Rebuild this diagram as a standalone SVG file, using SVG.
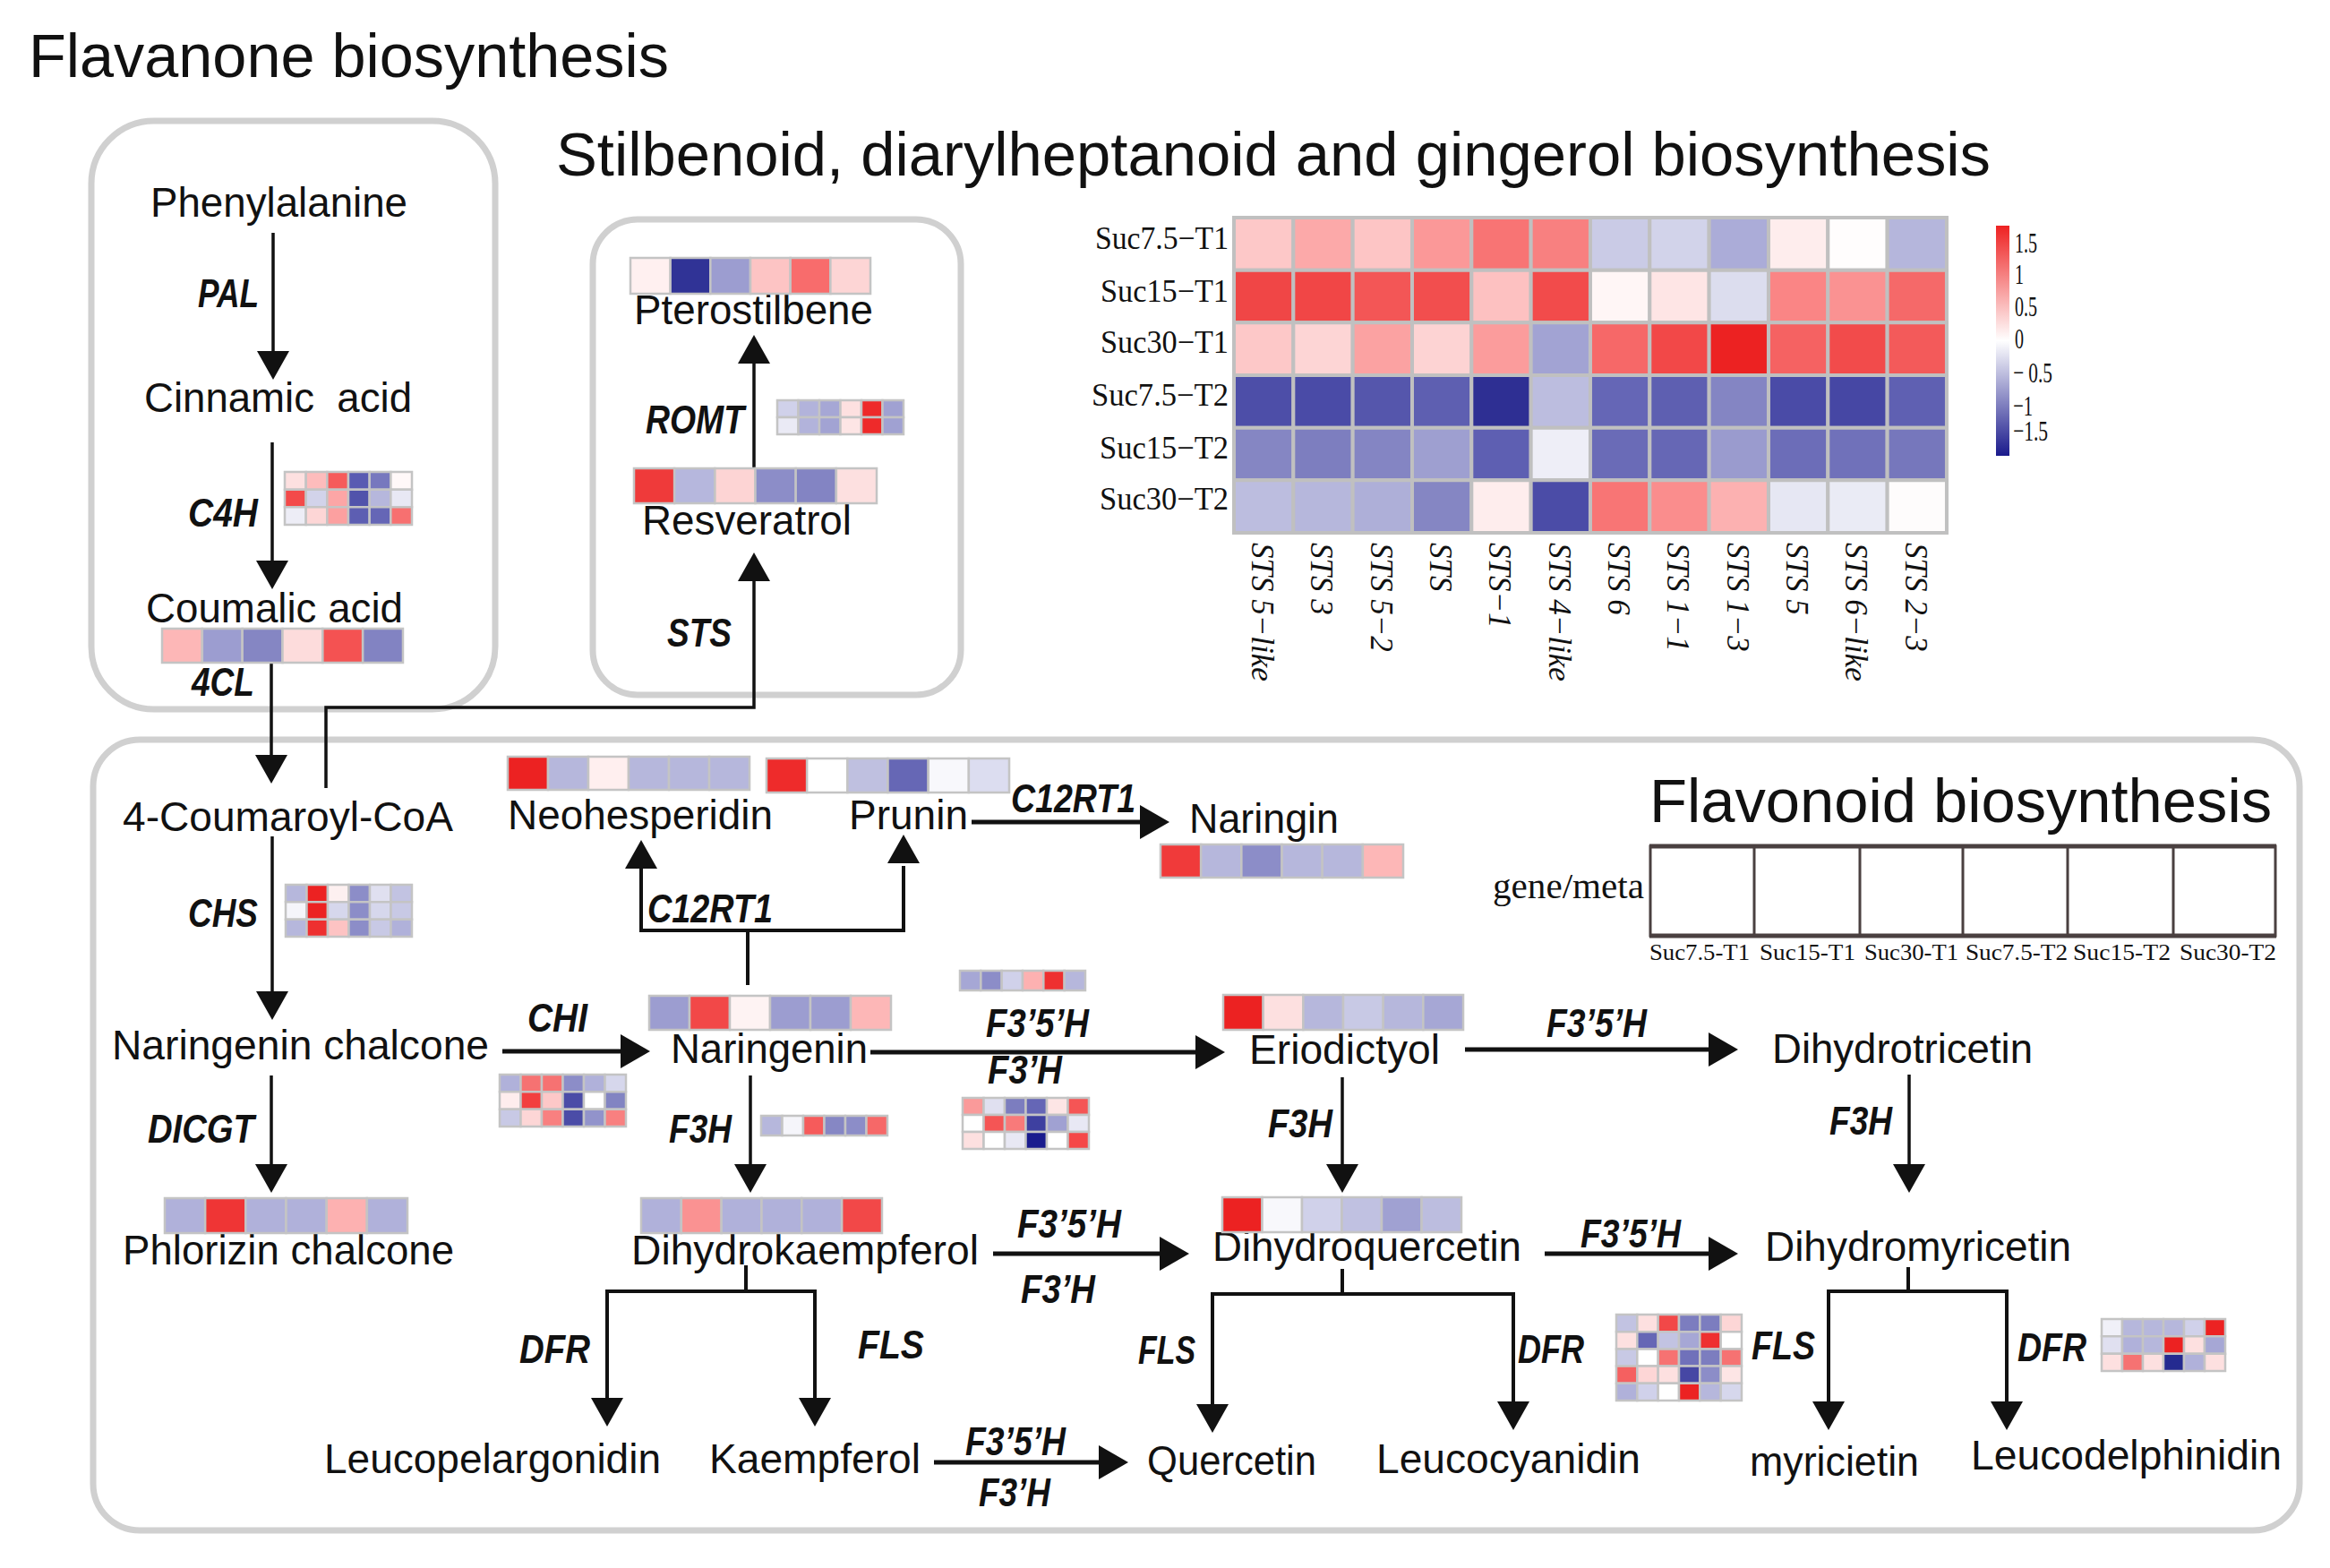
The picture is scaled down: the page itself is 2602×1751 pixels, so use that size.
<svg xmlns="http://www.w3.org/2000/svg" width="2602" height="1751" viewBox="0 0 2602 1751">
<style>
.cmp{font-family:"Liberation Sans",Arial,sans-serif;font-size:46px;fill:#111}
.enz{font-family:"Liberation Sans",Arial,sans-serif;font-size:44px;font-weight:bold;font-style:italic;fill:#111}
.ttl{font-family:"Liberation Sans",Arial,sans-serif;font-size:68px;fill:#111}
.tms{font-family:"Liberation Serif","Times New Roman",serif;fill:#111}
.box{fill:none;stroke:#d0d0d0;stroke-width:7}
.hm rect{stroke:#c4c4c4;stroke-width:2.5;vector-effect:non-scaling-stroke}
.big rect{stroke:#c0c0c0;stroke-width:4;vector-effect:non-scaling-stroke}
.v{stroke-width:3.5}
.h{stroke-width:5}
</style>
<defs>
<linearGradient id="leg" x1="0" y1="0" x2="0" y2="1">
<stop offset="0" stop-color="#EE2222"/>
<stop offset="0.5" stop-color="#FFFFFF"/>
<stop offset="1" stop-color="#1A1A8C"/>
</linearGradient>
</defs>
<rect width="2602" height="1751" fill="#fff"/>

<g id="titles">
<text class="ttl" x="32" y="86" textLength="715" lengthAdjust="spacingAndGlyphs">Flavanone biosynthesis</text>
<text class="ttl" x="621" y="196" textLength="1602" lengthAdjust="spacingAndGlyphs">Stilbenoid, diarylheptanoid and gingerol biosynthesis</text>
<text class="ttl" x="1842" y="918" textLength="695" lengthAdjust="spacingAndGlyphs">Flavonoid biosynthesis</text>
</g>

<g id="boxes">
<rect class="box" x="102" y="135" width="451" height="657" rx="70"/>
<rect class="box" x="662" y="245" width="411" height="531" rx="50"/>
<rect class="box" x="104" y="826" width="2464" height="883" rx="52"/>
</g>

<g id="connectors" fill="none" stroke="#111">
<path class="v" d="M305,260V395M304,494V628M303,740V845M364,880V790H842V647M842,523V403M304,934V1109M303,1201V1302M838,1201V1302M1499,1203V1302M2132,1200V1302"/>
<path class="h" d="M561,1174H694M1085,918H1276M972,1175H1338M1636,1172H1912M1109,1400H1298M1725,1400H1912M1043,1633H1230"/>
<path stroke-width="4" d="M835,1100V1039M716,970V1039H1009V967M833,1413V1442M678,1565V1442H910V1565M1499,1417V1445M1354,1570V1445H1690V1567M2131,1415V1442M2042,1567V1442H2241V1567"/>
<g fill="#111" stroke="none">
<polygon points="287,392 323,392 305,424"/>
<polygon points="286,626 322,626 304,658"/>
<polygon points="285,843 321,843 303,875"/>
<polygon points="824,649 860,649 842,617"/>
<polygon points="824,406 860,406 842,374"/>
<polygon points="286,1107 322,1107 304,1139"/>
<polygon points="285,1300 321,1300 303,1332"/>
<polygon points="820,1300 856,1300 838,1332"/>
<polygon points="1481,1300 1517,1300 1499,1332"/>
<polygon points="2114,1300 2150,1300 2132,1332"/>
<polygon points="693,1155 693,1193 726,1174"/>
<polygon points="698,970 734,970 716,938"/>
<polygon points="991,964 1027,964 1009,932"/>
<polygon points="1273,899 1273,937 1306,918"/>
<polygon points="1335,1156 1335,1194 1368,1175"/>
<polygon points="1908,1153 1908,1191 1941,1172"/>
<polygon points="1295,1381 1295,1419 1328,1400"/>
<polygon points="1908,1381 1908,1419 1941,1400"/>
<polygon points="660,1561 696,1561 678,1593"/>
<polygon points="892,1561 928,1561 910,1593"/>
<polygon points="1336,1568 1372,1568 1354,1600"/>
<polygon points="1672,1565 1708,1565 1690,1597"/>
<polygon points="2024,1565 2060,1565 2042,1597"/>
<polygon points="2223,1565 2259,1565 2241,1597"/>
<polygon points="1227,1614 1227,1652 1260,1633"/>
</g>
</g>

<g id="phenylalanine"><text class="cmp" x="168" y="242" textLength="287" lengthAdjust="spacingAndGlyphs">Phenylalanine</text></g>
<g id="cinnamic-acid"><text class="cmp" x="161" y="460" textLength="299" lengthAdjust="spacingAndGlyphs" xml:space="preserve">Cinnamic  acid</text></g>
<g id="coumalic-acid"><text class="cmp" x="163" y="695" textLength="287" lengthAdjust="spacingAndGlyphs">Coumalic acid</text>
<g class="hm" transform="translate(181,702) scale(44.83,38)">
<rect x="0" y="0" width="1" height="1" fill="#FDB7B7"/><rect x="1" y="0" width="1" height="1" fill="#9C9DD0"/><rect x="2" y="0" width="1" height="1" fill="#8586C3"/><rect x="3" y="0" width="1" height="1" fill="#FDDCDC"/><rect x="4" y="0" width="1" height="1" fill="#F45252"/><rect x="5" y="0" width="1" height="1" fill="#8283C2"/>
</g></g>
<g id="pal"><text class="enz" x="221" y="343" textLength="68" lengthAdjust="spacingAndGlyphs">PAL</text></g>
<g id="c4h"><text class="enz" x="210" y="588" textLength="78" lengthAdjust="spacingAndGlyphs">C4H</text>
<g class="hm" transform="translate(318,527) scale(23.67,19.67)">
<rect x="0" y="0" width="1" height="1" fill="#FDE0E0"/><rect x="1" y="0" width="1" height="1" fill="#FDBCBC"/><rect x="2" y="0" width="1" height="1" fill="#F65B5B"/><rect x="3" y="0" width="1" height="1" fill="#5A5BB2"/><rect x="4" y="0" width="1" height="1" fill="#7778BE"/><rect x="5" y="0" width="1" height="1" fill="#FFF8F8"/>
<rect x="0" y="1" width="1" height="1" fill="#F34A4A"/><rect x="1" y="1" width="1" height="1" fill="#D2D3EA"/><rect x="2" y="1" width="1" height="1" fill="#FCA6A6"/><rect x="3" y="1" width="1" height="1" fill="#5153AB"/><rect x="4" y="1" width="1" height="1" fill="#B6B7DC"/><rect x="5" y="1" width="1" height="1" fill="#E8E8F4"/>
<rect x="0" y="2" width="1" height="1" fill="#EDEDF6"/><rect x="1" y="2" width="1" height="1" fill="#FDD6D6"/><rect x="2" y="2" width="1" height="1" fill="#FCA0A0"/><rect x="3" y="2" width="1" height="1" fill="#5D5EB2"/><rect x="4" y="2" width="1" height="1" fill="#6566B6"/><rect x="5" y="2" width="1" height="1" fill="#F77070"/>
</g></g>
<g id="4cl"><text class="enz" x="214" y="777" textLength="70" lengthAdjust="spacingAndGlyphs">4CL</text></g>

<g id="pterostilbene"><text class="cmp" x="708" y="362" textLength="267" lengthAdjust="spacingAndGlyphs">Pterostilbene</text>
<g class="hm" transform="translate(704,288) scale(44.67,40)">
<rect x="0" y="0" width="1" height="1" fill="#FFF0F0"/><rect x="1" y="0" width="1" height="1" fill="#303396"/><rect x="2" y="0" width="1" height="1" fill="#9C9DD0"/><rect x="3" y="0" width="1" height="1" fill="#FDC4C4"/><rect x="4" y="0" width="1" height="1" fill="#F86C6C"/><rect x="5" y="0" width="1" height="1" fill="#FDD5D5"/>
</g></g>
<g id="romt"><text class="enz" x="721" y="484" textLength="110" lengthAdjust="spacingAndGlyphs">ROMT</text>
<g class="hm" transform="translate(868,447) scale(23.5,19)">
<rect x="0" y="0" width="1" height="1" fill="#D0D1EA"/><rect x="1" y="0" width="1" height="1" fill="#B2B3DB"/><rect x="2" y="0" width="1" height="1" fill="#A6A7D5"/><rect x="3" y="0" width="1" height="1" fill="#FDE0E0"/><rect x="4" y="0" width="1" height="1" fill="#EE2A2A"/><rect x="5" y="0" width="1" height="1" fill="#A0A1D2"/>
<rect x="0" y="1" width="1" height="1" fill="#EAEAF5"/><rect x="1" y="1" width="1" height="1" fill="#B2B3DB"/><rect x="2" y="1" width="1" height="1" fill="#A2A3D3"/><rect x="3" y="1" width="1" height="1" fill="#FDE5E5"/><rect x="4" y="1" width="1" height="1" fill="#EE2A2A"/><rect x="5" y="1" width="1" height="1" fill="#A0A1D2"/>
</g></g>
<g id="resveratrol"><text class="cmp" x="717" y="597" textLength="234" lengthAdjust="spacingAndGlyphs">Resveratrol</text>
<g class="hm" transform="translate(708,523) scale(45.17,39)">
<rect x="0" y="0" width="1" height="1" fill="#EF3A3A"/><rect x="1" y="0" width="1" height="1" fill="#B6B7DD"/><rect x="2" y="0" width="1" height="1" fill="#FDD4D4"/><rect x="3" y="0" width="1" height="1" fill="#8C8DC8"/><rect x="4" y="0" width="1" height="1" fill="#8384C3"/><rect x="5" y="0" width="1" height="1" fill="#FDE0E0"/>
</g></g>
<g id="sts"><text class="enz" x="745" y="722" textLength="72" lengthAdjust="spacingAndGlyphs">STS</text></g>

<g id="sts-heatmap">
<g class="big" transform="translate(1378,243) scale(66.33,58.67)">
<rect x="0" y="0" width="1" height="1" fill="#FDC8C8"/><rect x="1" y="0" width="1" height="1" fill="#FCA9A9"/><rect x="2" y="0" width="1" height="1" fill="#FDC5C5"/><rect x="3" y="0" width="1" height="1" fill="#FB9898"/><rect x="4" y="0" width="1" height="1" fill="#F87474"/><rect x="5" y="0" width="1" height="1" fill="#F88080"/><rect x="6" y="0" width="1" height="1" fill="#CACBE6"/><rect x="7" y="0" width="1" height="1" fill="#D2D3EA"/><rect x="8" y="0" width="1" height="1" fill="#ABACD8"/><rect x="9" y="0" width="1" height="1" fill="#FEEDED"/><rect x="10" y="0" width="1" height="1" fill="#FFFDFD"/><rect x="11" y="0" width="1" height="1" fill="#B5B6DC"/>
<rect x="0" y="1" width="1" height="1" fill="#F04646"/><rect x="1" y="1" width="1" height="1" fill="#F14646"/><rect x="2" y="1" width="1" height="1" fill="#F35656"/><rect x="3" y="1" width="1" height="1" fill="#F24E4E"/><rect x="4" y="1" width="1" height="1" fill="#FDC1C1"/><rect x="5" y="1" width="1" height="1" fill="#F24B4B"/><rect x="6" y="1" width="1" height="1" fill="#FFF6F6"/><rect x="7" y="1" width="1" height="1" fill="#FEE5E5"/><rect x="8" y="1" width="1" height="1" fill="#DCDDEE"/><rect x="9" y="1" width="1" height="1" fill="#FA8585"/><rect x="10" y="1" width="1" height="1" fill="#FA9292"/><rect x="11" y="1" width="1" height="1" fill="#F56969"/>
<rect x="0" y="2" width="1" height="1" fill="#FDC8C8"/><rect x="1" y="2" width="1" height="1" fill="#FDD5D5"/><rect x="2" y="2" width="1" height="1" fill="#FBA2A2"/><rect x="3" y="2" width="1" height="1" fill="#FDD3D3"/><rect x="4" y="2" width="1" height="1" fill="#FB9C9C"/><rect x="5" y="2" width="1" height="1" fill="#A2A3D3"/><rect x="6" y="2" width="1" height="1" fill="#F66868"/><rect x="7" y="2" width="1" height="1" fill="#F24848"/><rect x="8" y="2" width="1" height="1" fill="#EC2222"/><rect x="9" y="2" width="1" height="1" fill="#F56262"/><rect x="10" y="2" width="1" height="1" fill="#F24B4B"/><rect x="11" y="2" width="1" height="1" fill="#F35A5A"/>
<rect x="0" y="3" width="1" height="1" fill="#4D4EA8"/><rect x="1" y="3" width="1" height="1" fill="#4A4BA7"/><rect x="2" y="3" width="1" height="1" fill="#5556AC"/><rect x="3" y="3" width="1" height="1" fill="#5E5FB1"/><rect x="4" y="3" width="1" height="1" fill="#2E2F93"/><rect x="5" y="3" width="1" height="1" fill="#BCBDDF"/><rect x="6" y="3" width="1" height="1" fill="#6566B6"/><rect x="7" y="3" width="1" height="1" fill="#5E5FB1"/><rect x="8" y="3" width="1" height="1" fill="#8485C3"/><rect x="9" y="3" width="1" height="1" fill="#4A4BA7"/><rect x="10" y="3" width="1" height="1" fill="#4647A4"/><rect x="11" y="3" width="1" height="1" fill="#5F60B2"/>
<rect x="0" y="4" width="1" height="1" fill="#8586C3"/><rect x="1" y="4" width="1" height="1" fill="#7D7EBF"/><rect x="2" y="4" width="1" height="1" fill="#8485C3"/><rect x="3" y="4" width="1" height="1" fill="#9E9FD0"/><rect x="4" y="4" width="1" height="1" fill="#5E5FB2"/><rect x="5" y="4" width="1" height="1" fill="#EEEEF7"/><rect x="6" y="4" width="1" height="1" fill="#6A6BB7"/><rect x="7" y="4" width="1" height="1" fill="#6667B5"/><rect x="8" y="4" width="1" height="1" fill="#9A9BCE"/><rect x="9" y="4" width="1" height="1" fill="#6C6DB8"/><rect x="10" y="4" width="1" height="1" fill="#7071BA"/><rect x="11" y="4" width="1" height="1" fill="#7677BC"/>
<rect x="0" y="5" width="1" height="1" fill="#BCBDDF"/><rect x="1" y="5" width="1" height="1" fill="#B6B7DC"/><rect x="2" y="5" width="1" height="1" fill="#AEAFD8"/><rect x="3" y="5" width="1" height="1" fill="#8586C3"/><rect x="4" y="5" width="1" height="1" fill="#FEEDED"/><rect x="5" y="5" width="1" height="1" fill="#4B4CA7"/><rect x="6" y="5" width="1" height="1" fill="#F87575"/><rect x="7" y="5" width="1" height="1" fill="#FA8D8D"/><rect x="8" y="5" width="1" height="1" fill="#FCB1B1"/><rect x="9" y="5" width="1" height="1" fill="#E6E7F3"/><rect x="10" y="5" width="1" height="1" fill="#EAEBF5"/><rect x="11" y="5" width="1" height="1" fill="#FEFCFC"/>
</g>
<g class="tms" font-size="36" text-anchor="end">
<text x="1372" y="278" textLength="149" lengthAdjust="spacingAndGlyphs">Suc7.5−T1</text>
<text x="1372" y="337" textLength="143" lengthAdjust="spacingAndGlyphs">Suc15−T1</text>
<text x="1372" y="394" textLength="143" lengthAdjust="spacingAndGlyphs">Suc30−T1</text>
<text x="1372" y="453" textLength="153" lengthAdjust="spacingAndGlyphs">Suc7.5−T2</text>
<text x="1372" y="512" textLength="144" lengthAdjust="spacingAndGlyphs">Suc15−T2</text>
<text x="1372" y="569" textLength="144" lengthAdjust="spacingAndGlyphs">Suc30−T2</text>
</g>
<g class="tms" font-size="35" font-style="italic">
<text transform="translate(1398,606) rotate(90)">STS 5−like</text>
<text transform="translate(1464,606) rotate(90)">STS 3</text>
<text transform="translate(1531,606) rotate(90)">STS 5−2</text>
<text transform="translate(1597,606) rotate(90)">STS</text>
<text transform="translate(1663,606) rotate(90)">STS−1</text>
<text transform="translate(1730,606) rotate(90)">STS 4−like</text>
<text transform="translate(1796,606) rotate(90)">STS 6</text>
<text transform="translate(1862,606) rotate(90)">STS 1−1</text>
<text transform="translate(1929,606) rotate(90)">STS 1−3</text>
<text transform="translate(1995,606) rotate(90)">STS 5</text>
<text transform="translate(2061,606) rotate(90)">STS 6−like</text>
<text transform="translate(2128,606) rotate(90)">STS 2−3</text>
</g>
<rect x="2229" y="252" width="15" height="257" fill="url(#leg)"/>
<g class="tms" font-size="32">
<text x="2250" y="282" textLength="25" lengthAdjust="spacingAndGlyphs">1.5</text>
<text x="2250" y="317" textLength="10" lengthAdjust="spacingAndGlyphs">1</text>
<text x="2250" y="353" textLength="25" lengthAdjust="spacingAndGlyphs">0.5</text>
<text x="2250" y="389" textLength="10" lengthAdjust="spacingAndGlyphs">0</text>
<text x="2248" y="427" textLength="44" lengthAdjust="spacingAndGlyphs">− 0.5</text>
<text x="2248" y="464" textLength="22" lengthAdjust="spacingAndGlyphs">−1</text>
<text x="2248" y="492" textLength="39" lengthAdjust="spacingAndGlyphs">−1.5</text>
</g>
</g>

<g id="coumaroyl-coa"><text class="cmp" x="137" y="928" textLength="369" lengthAdjust="spacingAndGlyphs">4-Coumaroyl-CoA</text></g>
<g id="neohesperidin"><text class="cmp" x="567" y="926" textLength="296" lengthAdjust="spacingAndGlyphs">Neohesperidin</text>
<g class="hm" transform="translate(567,845) scale(45,37)">
<rect x="0" y="0" width="1" height="1" fill="#EC2222"/><rect x="1" y="0" width="1" height="1" fill="#B6B7DC"/><rect x="2" y="0" width="1" height="1" fill="#FFEFEF"/><rect x="3" y="0" width="1" height="1" fill="#B6B7DC"/><rect x="4" y="0" width="1" height="1" fill="#B6B7DC"/><rect x="5" y="0" width="1" height="1" fill="#B6B7DC"/>
</g></g>
<g id="prunin"><text class="cmp" x="948" y="926" textLength="133" lengthAdjust="spacingAndGlyphs">Prunin</text>
<g class="hm" transform="translate(856,847) scale(45.17,38)">
<rect x="0" y="0" width="1" height="1" fill="#EE2B2B"/><rect x="1" y="0" width="1" height="1" fill="#FFFFFF"/><rect x="2" y="0" width="1" height="1" fill="#BFC0E0"/><rect x="3" y="0" width="1" height="1" fill="#6667B5"/><rect x="4" y="0" width="1" height="1" fill="#F8F8FC"/><rect x="5" y="0" width="1" height="1" fill="#DCDDF0"/>
</g></g>
<g id="naringin"><text class="cmp" x="1328" y="930" textLength="167" lengthAdjust="spacingAndGlyphs">Naringin</text>
<g class="hm" transform="translate(1296,943) scale(45.17,37)">
<rect x="0" y="0" width="1" height="1" fill="#F03A3A"/><rect x="1" y="0" width="1" height="1" fill="#B6B7DC"/><rect x="2" y="0" width="1" height="1" fill="#8C8DC8"/><rect x="3" y="0" width="1" height="1" fill="#B6B7DC"/><rect x="4" y="0" width="1" height="1" fill="#B6B7DC"/><rect x="5" y="0" width="1" height="1" fill="#FDB7B7"/>
</g></g>
<g id="c12rt1-a"><text class="enz" x="723" y="1030" textLength="140" lengthAdjust="spacingAndGlyphs">C12RT1</text></g>
<g id="c12rt1-b"><text class="enz" x="1129" y="907" textLength="139" lengthAdjust="spacingAndGlyphs">C12RT1</text></g>

<g id="legend-box">
<text class="tms" x="1667" y="1003" font-size="40" textLength="169" lengthAdjust="spacingAndGlyphs">gene/meta</text>
<g stroke="#4a4040" fill="none">
<rect x="1843" y="945" width="698" height="100" stroke-width="3"/>
<path stroke-width="5" d="M1842,945H2542M1842,1045H2542"/>
<path stroke-width="3" d="M1959,945V1045M2077,945V1045M2192,945V1045M2309,945V1045M2427,945V1045"/>
</g>
<g class="tms" font-size="26">
<text x="1842" y="1072" textLength="112" lengthAdjust="spacingAndGlyphs">Suc7.5-T1</text>
<text x="1965" y="1072" textLength="107" lengthAdjust="spacingAndGlyphs">Suc15-T1</text>
<text x="2082" y="1072" textLength="105" lengthAdjust="spacingAndGlyphs">Suc30-T1</text>
<text x="2195" y="1072" textLength="114" lengthAdjust="spacingAndGlyphs">Suc7.5-T2</text>
<text x="2315" y="1072" textLength="109" lengthAdjust="spacingAndGlyphs">Suc15-T2</text>
<text x="2434" y="1072" textLength="108" lengthAdjust="spacingAndGlyphs">Suc30-T2</text>
</g>
</g>

<g id="chs"><text class="enz" x="210" y="1035" textLength="78" lengthAdjust="spacingAndGlyphs">CHS</text>
<g class="hm" transform="translate(319,988) scale(23.5,19.33)">
<rect x="0" y="0" width="1" height="1" fill="#B6B7DC"/><rect x="1" y="0" width="1" height="1" fill="#EC2222"/><rect x="2" y="0" width="1" height="1" fill="#FDF0F0"/><rect x="3" y="0" width="1" height="1" fill="#8C8DC8"/><rect x="4" y="0" width="1" height="1" fill="#E0E0F0"/><rect x="5" y="0" width="1" height="1" fill="#C2C3E2"/>
<rect x="0" y="1" width="1" height="1" fill="#F5F5FA"/><rect x="1" y="1" width="1" height="1" fill="#EC2222"/><rect x="2" y="1" width="1" height="1" fill="#D6D7EC"/><rect x="3" y="1" width="1" height="1" fill="#8C8DC8"/><rect x="4" y="1" width="1" height="1" fill="#D6D7EC"/><rect x="5" y="1" width="1" height="1" fill="#C8C9E5"/>
<rect x="0" y="2" width="1" height="1" fill="#B6B7DC"/><rect x="1" y="2" width="1" height="1" fill="#EE3030"/><rect x="2" y="2" width="1" height="1" fill="#FDC3C3"/><rect x="3" y="2" width="1" height="1" fill="#8C8DC8"/><rect x="4" y="2" width="1" height="1" fill="#C8C9E5"/><rect x="5" y="2" width="1" height="1" fill="#B0B1DA"/>
</g></g>
<g id="naringenin-chalcone"><text class="cmp" x="125" y="1183" textLength="421" lengthAdjust="spacingAndGlyphs">Naringenin chalcone</text></g>
<g id="chi"><text class="enz" x="589" y="1152" textLength="67" lengthAdjust="spacingAndGlyphs">CHI</text>
<g class="hm" transform="translate(558,1200) scale(23.5,19.33)">
<rect x="0" y="0" width="1" height="1" fill="#B0B1DA"/><rect x="1" y="0" width="1" height="1" fill="#F67272"/><rect x="2" y="0" width="1" height="1" fill="#F67272"/><rect x="3" y="0" width="1" height="1" fill="#8C8DC8"/><rect x="4" y="0" width="1" height="1" fill="#B0B1DA"/><rect x="5" y="0" width="1" height="1" fill="#D6D7EC"/>
<rect x="0" y="1" width="1" height="1" fill="#FEEDED"/><rect x="1" y="1" width="1" height="1" fill="#F23F3F"/><rect x="2" y="1" width="1" height="1" fill="#FDC8C8"/><rect x="3" y="1" width="1" height="1" fill="#4B4CA7"/><rect x="4" y="1" width="1" height="1" fill="#FFFFFF"/><rect x="5" y="1" width="1" height="1" fill="#8284C2"/>
<rect x="0" y="2" width="1" height="1" fill="#C8C9E5"/><rect x="1" y="2" width="1" height="1" fill="#FDD6D6"/><rect x="2" y="2" width="1" height="1" fill="#F88080"/><rect x="3" y="2" width="1" height="1" fill="#4B4CA7"/><rect x="4" y="2" width="1" height="1" fill="#9293CB"/><rect x="5" y="2" width="1" height="1" fill="#F88080"/>
</g></g>
<g id="naringenin"><text class="cmp" x="749" y="1187" textLength="220" lengthAdjust="spacingAndGlyphs">Naringenin</text>
<g class="hm" transform="translate(725,1112) scale(45,38)">
<rect x="0" y="0" width="1" height="1" fill="#9C9DD0"/><rect x="1" y="0" width="1" height="1" fill="#F24848"/><rect x="2" y="0" width="1" height="1" fill="#FEF3F3"/><rect x="3" y="0" width="1" height="1" fill="#9C9DD0"/><rect x="4" y="0" width="1" height="1" fill="#9C9DD0"/><rect x="5" y="0" width="1" height="1" fill="#FDB7B7"/>
</g></g>
<g id="f35h-a"><text class="enz" x="1101" y="1158" textLength="115" lengthAdjust="spacingAndGlyphs">F3’5’H</text>
<g class="hm" transform="translate(1072,1084) scale(23.33,22)">
<rect x="0" y="0" width="1" height="1" fill="#A6A7D5"/><rect x="1" y="0" width="1" height="1" fill="#8C8DC8"/><rect x="2" y="0" width="1" height="1" fill="#D0D1EA"/><rect x="3" y="0" width="1" height="1" fill="#FDB1B1"/><rect x="4" y="0" width="1" height="1" fill="#EE3030"/><rect x="5" y="0" width="1" height="1" fill="#B6B7DC"/>
</g></g>
<g id="f3h-a"><text class="enz" x="1103" y="1210" textLength="83" lengthAdjust="spacingAndGlyphs">F3’H</text>
<g class="hm" transform="translate(1075,1226) scale(23.5,19)">
<rect x="0" y="0" width="1" height="1" fill="#FA9A9A"/><rect x="1" y="0" width="1" height="1" fill="#E0E0F0"/><rect x="2" y="0" width="1" height="1" fill="#7C7DBF"/><rect x="3" y="0" width="1" height="1" fill="#6566B6"/><rect x="4" y="0" width="1" height="1" fill="#FDE5E5"/><rect x="5" y="0" width="1" height="1" fill="#F55555"/>
<rect x="0" y="1" width="1" height="1" fill="#FFFFFF"/><rect x="1" y="1" width="1" height="1" fill="#F55555"/><rect x="2" y="1" width="1" height="1" fill="#F87A7A"/><rect x="3" y="1" width="1" height="1" fill="#3E40A0"/><rect x="4" y="1" width="1" height="1" fill="#A0A1D2"/><rect x="5" y="1" width="1" height="1" fill="#E8E8F4"/>
<rect x="0" y="2" width="1" height="1" fill="#FDE0E0"/><rect x="1" y="2" width="1" height="1" fill="#FFFFFF"/><rect x="2" y="2" width="1" height="1" fill="#E8E8F4"/><rect x="3" y="2" width="1" height="1" fill="#1A1C8E"/><rect x="4" y="2" width="1" height="1" fill="#FFFFFF"/><rect x="5" y="2" width="1" height="1" fill="#F54848"/>
</g></g>
<g id="eriodictyol"><text class="cmp" x="1395" y="1188" textLength="213" lengthAdjust="spacingAndGlyphs">Eriodictyol</text>
<g class="hm" transform="translate(1366,1111) scale(44.67,39)">
<rect x="0" y="0" width="1" height="1" fill="#EC2222"/><rect x="1" y="0" width="1" height="1" fill="#FDE0E0"/><rect x="2" y="0" width="1" height="1" fill="#B6B7DC"/><rect x="3" y="0" width="1" height="1" fill="#C8C9E5"/><rect x="4" y="0" width="1" height="1" fill="#B6B7DC"/><rect x="5" y="0" width="1" height="1" fill="#A6A7D5"/>
</g></g>
<g id="f35h-b"><text class="enz" x="1727" y="1158" textLength="112" lengthAdjust="spacingAndGlyphs">F3’5’H</text></g>
<g id="dihydrotricetin"><text class="cmp" x="1979" y="1187" textLength="291" lengthAdjust="spacingAndGlyphs">Dihydrotricetin</text></g>
<g id="dicgt"><text class="enz" x="165" y="1276" textLength="119" lengthAdjust="spacingAndGlyphs">DICGT</text></g>
<g id="f3h-b"><text class="enz" x="747" y="1276" textLength="70" lengthAdjust="spacingAndGlyphs">F3H</text>
<g class="hm" transform="translate(850,1246) scale(23.5,22)">
<rect x="0" y="0" width="1" height="1" fill="#B6B7DC"/><rect x="1" y="0" width="1" height="1" fill="#F5F5FA"/><rect x="2" y="0" width="1" height="1" fill="#F65B5B"/><rect x="3" y="0" width="1" height="1" fill="#8687C4"/><rect x="4" y="0" width="1" height="1" fill="#8C8DC8"/><rect x="5" y="0" width="1" height="1" fill="#F66868"/>
</g></g>
<g id="f3h-c"><text class="enz" x="1416" y="1270" textLength="72" lengthAdjust="spacingAndGlyphs">F3H</text></g>
<g id="f3h-d"><text class="enz" x="2043" y="1267" textLength="70" lengthAdjust="spacingAndGlyphs">F3H</text></g>

<g id="phlorizin-chalcone"><text class="cmp" x="137" y="1412" textLength="370" lengthAdjust="spacingAndGlyphs">Phlorizin chalcone</text>
<g class="hm" transform="translate(184,1338) scale(45.17,39)">
<rect x="0" y="0" width="1" height="1" fill="#B0B1DA"/><rect x="1" y="0" width="1" height="1" fill="#EF3535"/><rect x="2" y="0" width="1" height="1" fill="#B0B1DA"/><rect x="3" y="0" width="1" height="1" fill="#B0B1DA"/><rect x="4" y="0" width="1" height="1" fill="#FDB1B1"/><rect x="5" y="0" width="1" height="1" fill="#B0B1DA"/>
</g></g>
<g id="dihydrokaempferol"><text class="cmp" x="705" y="1412" textLength="388" lengthAdjust="spacingAndGlyphs">Dihydrokaempferol</text>
<g class="hm" transform="translate(716,1338) scale(44.83,39)">
<rect x="0" y="0" width="1" height="1" fill="#B0B1DA"/><rect x="1" y="0" width="1" height="1" fill="#FA9292"/><rect x="2" y="0" width="1" height="1" fill="#B0B1DA"/><rect x="3" y="0" width="1" height="1" fill="#B0B1DA"/><rect x="4" y="0" width="1" height="1" fill="#B0B1DA"/><rect x="5" y="0" width="1" height="1" fill="#F24848"/>
</g></g>
<g id="f35h-c"><text class="enz" x="1136" y="1382" textLength="116" lengthAdjust="spacingAndGlyphs">F3’5’H</text></g>
<g id="f3h-e"><text class="enz" x="1140" y="1455" textLength="83" lengthAdjust="spacingAndGlyphs">F3’H</text></g>
<g id="dihydroquercetin"><text class="cmp" x="1354" y="1408" textLength="345" lengthAdjust="spacingAndGlyphs">Dihydroquercetin</text>
<g class="hm" transform="translate(1365,1337) scale(44.5,39)">
<rect x="0" y="0" width="1" height="1" fill="#EC2222"/><rect x="1" y="0" width="1" height="1" fill="#F8F8FC"/><rect x="2" y="0" width="1" height="1" fill="#D0D1EA"/><rect x="3" y="0" width="1" height="1" fill="#C0C1E1"/><rect x="4" y="0" width="1" height="1" fill="#A0A1D2"/><rect x="5" y="0" width="1" height="1" fill="#BCBDDF"/>
</g></g>
<g id="f35h-d"><text class="enz" x="1765" y="1393" textLength="112" lengthAdjust="spacingAndGlyphs">F3’5’H</text></g>
<g id="dihydromyricetin"><text class="cmp" x="1971" y="1408" textLength="342" lengthAdjust="spacingAndGlyphs">Dihydromyricetin</text></g>

<g id="dfr-a"><text class="enz" x="580" y="1522" textLength="79" lengthAdjust="spacingAndGlyphs">DFR</text></g>
<g id="fls-a"><text class="enz" x="958" y="1517" textLength="74" lengthAdjust="spacingAndGlyphs">FLS</text></g>
<g id="fls-b"><text class="enz" x="1271" y="1523" textLength="64" lengthAdjust="spacingAndGlyphs">FLS</text></g>
<g id="dfr-b"><text class="enz" x="1695" y="1522" textLength="74" lengthAdjust="spacingAndGlyphs">DFR</text>
<g class="hm" transform="translate(1805,1468) scale(23.33,19.2)">
<rect x="0" y="0" width="1" height="1" fill="#C2C3E2"/><rect x="1" y="0" width="1" height="1" fill="#FDE0E0"/><rect x="2" y="0" width="1" height="1" fill="#F24848"/><rect x="3" y="0" width="1" height="1" fill="#7C7DBF"/><rect x="4" y="0" width="1" height="1" fill="#7C7DBF"/><rect x="5" y="0" width="1" height="1" fill="#FDD6D6"/>
<rect x="0" y="1" width="1" height="1" fill="#FDE0E0"/><rect x="1" y="1" width="1" height="1" fill="#6667B5"/><rect x="2" y="1" width="1" height="1" fill="#C2C3E2"/><rect x="3" y="1" width="1" height="1" fill="#A6A7D5"/><rect x="4" y="1" width="1" height="1" fill="#EE3030"/><rect x="5" y="1" width="1" height="1" fill="#FFFFFF"/>
<rect x="0" y="2" width="1" height="1" fill="#C8C9E5"/><rect x="1" y="2" width="1" height="1" fill="#FFFFFF"/><rect x="2" y="2" width="1" height="1" fill="#F67272"/><rect x="3" y="2" width="1" height="1" fill="#7071BA"/><rect x="4" y="2" width="1" height="1" fill="#7C7DBF"/><rect x="5" y="2" width="1" height="1" fill="#F67272"/>
<rect x="0" y="3" width="1" height="1" fill="#F56060"/><rect x="1" y="3" width="1" height="1" fill="#FDD6D6"/><rect x="2" y="3" width="1" height="1" fill="#FDE0E0"/><rect x="3" y="3" width="1" height="1" fill="#4647A4"/><rect x="4" y="3" width="1" height="1" fill="#8C8DC8"/><rect x="5" y="3" width="1" height="1" fill="#FDE5E5"/>
<rect x="0" y="4" width="1" height="1" fill="#B0B1DA"/><rect x="1" y="4" width="1" height="1" fill="#D0D1EA"/><rect x="2" y="4" width="1" height="1" fill="#FFFFFF"/><rect x="3" y="4" width="1" height="1" fill="#EC2222"/><rect x="4" y="4" width="1" height="1" fill="#B6B7DC"/><rect x="5" y="4" width="1" height="1" fill="#D6D7EC"/>
</g></g>
<g id="fls-c"><text class="enz" x="1956" y="1518" textLength="71" lengthAdjust="spacingAndGlyphs">FLS</text></g>
<g id="dfr-c"><text class="enz" x="2253" y="1520" textLength="77" lengthAdjust="spacingAndGlyphs">DFR</text>
<g class="hm" transform="translate(2347,1473) scale(23,19.33)">
<rect x="0" y="0" width="1" height="1" fill="#F0F0F8"/><rect x="1" y="0" width="1" height="1" fill="#B6B7DC"/><rect x="2" y="0" width="1" height="1" fill="#B6B7DC"/><rect x="3" y="0" width="1" height="1" fill="#B6B7DC"/><rect x="4" y="0" width="1" height="1" fill="#D0D1EA"/><rect x="5" y="0" width="1" height="1" fill="#EC2222"/>
<rect x="0" y="1" width="1" height="1" fill="#E0E0F0"/><rect x="1" y="1" width="1" height="1" fill="#B0B1DA"/><rect x="2" y="1" width="1" height="1" fill="#B6B7DC"/><rect x="3" y="1" width="1" height="1" fill="#EC2222"/><rect x="4" y="1" width="1" height="1" fill="#FDE0E0"/><rect x="5" y="1" width="1" height="1" fill="#A6A7D5"/>
<rect x="0" y="2" width="1" height="1" fill="#FDE0E0"/><rect x="1" y="2" width="1" height="1" fill="#F67272"/><rect x="2" y="2" width="1" height="1" fill="#FDE0E0"/><rect x="3" y="2" width="1" height="1" fill="#242A90"/><rect x="4" y="2" width="1" height="1" fill="#B0B1DA"/><rect x="5" y="2" width="1" height="1" fill="#FDE0E0"/>
</g></g>

<g id="leucopelargonidin"><text class="cmp" x="362" y="1645" textLength="376" lengthAdjust="spacingAndGlyphs">Leucopelargonidin</text></g>
<g id="kaempferol"><text class="cmp" x="792" y="1645" textLength="236" lengthAdjust="spacingAndGlyphs">Kaempferol</text></g>
<g id="f35h-e"><text class="enz" x="1078" y="1625" textLength="112" lengthAdjust="spacingAndGlyphs">F3’5’H</text></g>
<g id="f3h-f"><text class="enz" x="1093" y="1682" textLength="80" lengthAdjust="spacingAndGlyphs">F3’H</text></g>
<g id="quercetin"><text class="cmp" x="1281" y="1647" textLength="189" lengthAdjust="spacingAndGlyphs">Quercetin</text></g>
<g id="leucocyanidin"><text class="cmp" x="1537" y="1645" textLength="295" lengthAdjust="spacingAndGlyphs">Leucocyanidin</text></g>
<g id="myricietin"><text class="cmp" x="1954" y="1648" textLength="189" lengthAdjust="spacingAndGlyphs">myricietin</text></g>
<g id="leucodelphinidin"><text class="cmp" x="2201" y="1641" textLength="347" lengthAdjust="spacingAndGlyphs">Leucodelphinidin</text></g>
</svg>
